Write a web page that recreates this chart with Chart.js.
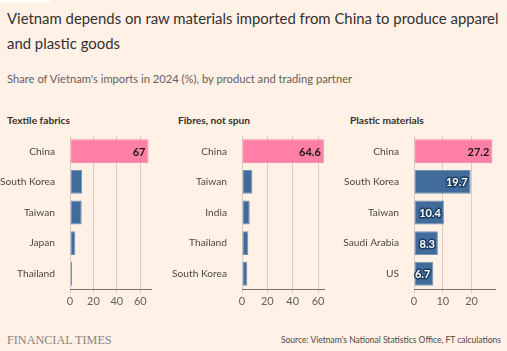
<!DOCTYPE html>
<html>
<head>
<meta charset="utf-8">
<script src="https://cdn.jsdelivr.net/npm/chart.js@4.4.1/dist/chart.umd.min.js"></script>
<style>
  html, body { margin: 0; padding: 0; background: #fff1e5; }
  body { width: 507px; height: 351px; position: relative; overflow: hidden; font-family: Lato, sans-serif; }
  .strip { position: absolute; left: 0; top: 0; width: 50px; height: 3px; background: #fffaf4; }
  .title { position: absolute; left: 7px; top: 6px; width: 500px; font-size: 14.9px; line-height: 24.6px; color: #33302e; }
  .subtitle { position: absolute; left: 7px; top: 71px; font-size: 11.2px; line-height: 16px; color: #66605c; }
  .ptitle { position: absolute; top: 113px; font-size: 10.2px; line-height: 15px; font-weight: bold; color: #33302e; }
  .panel { position: absolute; top: 136px; height: 177px; }
  .ft { position: absolute; left: 7px; top: 332px; font-family: "Liberation Serif", serif; font-size: 12.2px; line-height: 16px; color: #8a8580; }
  .source { position: absolute; right: 6px; top: 333px; font-size: 8.5px; line-height: 14px; color: #4d4845; }
</style>
</head>
<body>
<div class="strip"></div>
<div class="title">Vietnam depends on raw materials imported from China to produce apparel<br>and plastic goods</div>
<div class="subtitle">Share of Vietnam's imports in 2024 (%), by product and trading partner</div>

<div class="ptitle" style="left:7px">Textile fabrics</div>
<div class="ptitle" style="left:178px">Fibres, not spun</div>
<div class="ptitle" style="left:350px">Plastic materials</div>

<div class="panel" style="left:0px; width:152px"><canvas id="c1"></canvas></div>
<div class="panel" style="left:165px; width:160px"><canvas id="c2"></canvas></div>
<div class="panel" style="left:335px; width:161px"><canvas id="c3"></canvas></div>

<div class="ft">FINANCIAL TIMES</div>
<div class="source">Source: Vietnam's National Statistics Office, FT calculations</div>

<script>
// data
const fabricsPartners = ['China', 'South Korea', 'Taiwan', 'Japan', 'Thailand'];
const fabricsValues = [67, 10.3, 10, 4.6, 1.7];
const fabricsLabels = ['67', '', '', '', ''];
const fabricsTicks = [0, 20, 40, 60];

const fibresPartners = ['China', 'Taiwan', 'India', 'Thailand', 'South Korea'];
const fibresValues = [64.6, 8.2, 6.1, 5.0, 4.2];
const fibresLabels = ['64.6', '', '', '', ''];
const fibresTicks = [0, 20, 40, 60];

const plasticPartners = ['China', 'South Korea', 'Taiwan', 'Saudi Arabia', 'US'];
const plasticValues = [27.2, 19.7, 10.4, 8.3, 6.7];
const plasticLabels = ['27.2', '19.7', '10.4', '8.3', '6.7'];
const plasticTicks = [0, 10, 20];

const PINK = '#ff7fa6';
const BLUE = '#406b9b';

// draws the value labels at the inner end of each bar
const barLabels = {
    id: 'barLabels',
    afterDatasetsDraw(chart, args, opts) {
        const ctx = chart.ctx;
        const meta = chart.getDatasetMeta(0);
        ctx.save();
        ctx.font = 'bold 11px Lato, sans-serif';
        ctx.textAlign = 'right';
        ctx.textBaseline = 'middle';
        meta.data.forEach((bar, i) => {
            const txt = opts.labels[i];
            if (!txt) return;
            const x = bar.x - 3;
            const y = bar.y + 1;
            if (i === 0) {
                ctx.fillStyle = '#1a1817';
                ctx.fillText(txt, x, y);
            } else {
                ctx.lineWidth = 3;
                ctx.strokeStyle = '#1f3f66';
                ctx.lineJoin = 'round';
                ctx.strokeText(txt, x, y);
                ctx.fillStyle = '#ffffff';
                ctx.fillText(txt, x, y);
            }
        });
        ctx.restore();
    }
};

function makePanel(id, partners, values, labels, ticks, xMax, yWidth) {
    const ctx = document.getElementById(id).getContext('2d');
    return new Chart(ctx, {
        type: 'bar',
        data: {
            labels: partners,
            datasets: [{
                data: values,
                backgroundColor: values.map((v, i) => i === 0 ? PINK : BLUE),
                borderColor: values.map((v, i) => i === 0 ? PINK : '#7393bb'),
                borderWidth: 1,
                borderSkipped: false,
                categoryPercentage: 1,
                barPercentage: 0.78
            }]
        },
        options: {
            indexAxis: 'y',
            responsive: true,
            maintainAspectRatio: false,
            animation: false,
            layout: { padding: 0 },
            scales: {
                x: {
                    min: 0,
                    max: xMax,
                    afterBuildTicks: (scale) => { scale.ticks = ticks.map(v => ({ value: v })); },
                    afterFit: (scale) => { scale.height = 24; scale.paddingLeft = 0; scale.paddingRight = 0; },
                    grid: { color: '#d9cdc2', lineWidth: 1, tickLength: 4, drawTicks: true },
                    border: { display: true, color: '#7a746f', width: 1 },
                    ticks: { color: '#66605c', font: { size: 11, family: 'Lato' }, padding: 2, maxRotation: 0 }
                },
                y: {
                    afterFit: (scale) => { scale.width = yWidth; scale.paddingTop = 0; scale.paddingBottom = 0; },
                    grid: { display: false },
                    border: { display: false },
                    ticks: { color: '#4d4845', font: { size: 10.2, family: 'Lato' }, padding: 7 }
                }
            },
            plugins: {
                legend: { display: false },
                tooltip: { enabled: false },
                barLabels: { labels: labels }
            }
        },
        plugins: [barLabels]
    });
}

makePanel('c1', fabricsPartners, fabricsValues, fabricsLabels, fabricsTicks, 70, 70);
makePanel('c2', fibresPartners, fibresValues, fibresLabels, fibresTicks, 65.5, 77);
makePanel('c3', plasticPartners, plasticValues, plasticLabels, plasticTicks, 28.5, 79);
</script>
</body>
</html>
